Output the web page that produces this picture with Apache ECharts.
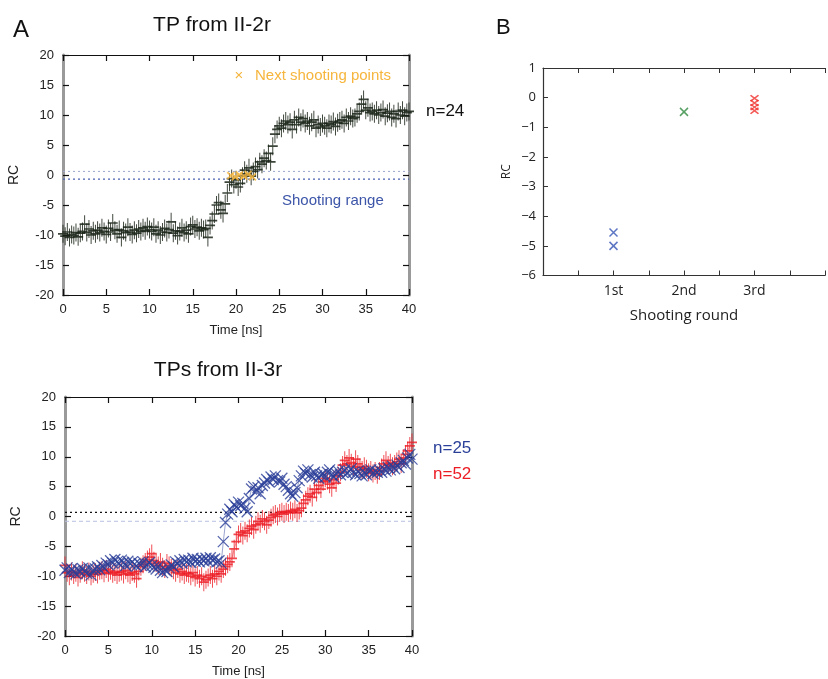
<!DOCTYPE html>
<html><head><meta charset="utf-8">
<script src="https://cdn.jsdelivr.net/npm/echarts@6/dist/echarts.min.js"></script>
<style>html,body{margin:0;padding:0;background:#fff}#c{width:828px;height:679px}</style>
</head><body><div id="c"></div>
<script>
// ---- data ----
const DT = 0.25; // sampling step (ns)
const TOP_RC = [
 -9.8,-10.2,-9.5,-10.4,-9.9,-10.1,-9.6,-10.3,-9.7,
 -9.4,-8.2,-9.6,-9.0,-10.0,-9.3,-9.8,-9.2,
 -9.6,-8.8,-9.4,-9.9,-8.9,-9.5,-8.0,-9.2,
 -9.8,-9.1,-10.4,-9.3,-9.6,-8.7,-9.5,-9.9,
 -9.2,-9.7,-9.0,-9.4,-8.8,-9.3,-8.6,-9.1,
 -9.4,-8.7,-9.8,-9.2,-10.0,-9.5,-8.9,-9.6,
 -9.1,-7.8,-9.7,-9.3,-10.1,-9.4,-8.8,-9.6,
 -9.2,-9.8,-8.6,-8.3,-9.0,-8.7,-9.3,-8.8,
 -9.1,-8.9,-10.4,-8.4,-7.6,-6.5,-5.0,-4.6,
 -5.8,-6.4,-4.8,-3.0,-1.2,-0.6,-1.6,-0.8,
 -2.0,-1.4,-0.2,0.8,0.2,1.2,-0.2,0.6,
 1.4,0.9,2.2,1.8,2.8,2.4,3.6,2.2,
 4.8,6.8,7.6,8.2,7.8,8.6,9.0,8.4,
 8.8,7.6,9.2,8.4,9.6,8.8,9.4,8.6,
 9.0,8.2,8.8,9.2,7.8,8.4,8.0,8.6,
 8.2,7.8,8.6,8.4,8.9,8.1,8.7,9.0,
 9.2,8.6,9.6,9.0,9.8,9.4,9.6,10.2,
 10.6,11.8,12.6,10.8,11.2,10.4,10.6,10.2,
 10.8,10.0,10.4,10.9,9.8,10.3,10.6,9.6,
 10.2,9.4,10.6,10.0,10.8,9.8,10.4,10.6
];
const BLUE_RC = [
 -9.0,-8.6,-9.4,-8.8,-9.2,-9.6,-8.9,-9.3,-8.7,
 -9.1,-9.5,-8.6,-9.8,-9.0,-8.8,-8.4,-8.9,
 -8.2,-8.6,-7.8,-8.1,-7.4,-7.8,-7.2,-7.6,
 -7.9,-7.3,-7.7,-8.2,-7.5,-7.9,-7.6,-8.0,
 -8.3,-7.8,-8.1,-7.6,-8.4,-8.0,-7.7,-8.2,
 -8.5,-8.8,-8.3,-9.0,-9.4,-8.9,-9.2,-8.6,
 -8.1,-8.4,-7.6,-7.9,-7.4,-7.8,-7.2,-7.6,
 -7.3,-7.7,-7.0,-7.5,-7.2,-7.6,-7.1,-7.4,
 -7.0,-7.5,-6.9,-7.3,-7.1,-7.6,-7.4,-7.8,
 -4.2,-1.0,0.4,1.2,0.8,2.0,1.6,2.4,
 1.8,2.2,1.4,0.8,3.0,4.6,5.0,4.2,
 4.8,3.8,5.2,5.6,6.2,5.8,6.6,6.2,
 6.8,6.0,5.8,6.4,5.4,5.0,4.4,3.8,
 3.4,4.0,4.8,6.0,6.8,7.6,7.2,7.8,
 7.0,6.6,7.4,6.8,6.4,7.0,7.2,6.6,
 7.4,7.8,7.0,6.6,7.2,7.6,7.0,7.4,
 7.8,7.2,7.6,8.0,7.4,7.0,7.6,7.2,
 6.8,7.4,7.0,7.6,7.8,7.2,7.6,7.4,
 7.8,7.4,8.0,7.6,8.2,7.8,8.4,8.0,
 8.6,8.2,9.0,9.4,8.8,9.8,10.4,9.6
];
const RED_RC = [
 -8.2,-9.4,-10.0,-9.2,-9.8,-9.4,-10.2,-9.6,-9.0,
 -9.4,-9.8,-9.2,-10.0,-9.6,-9.3,-9.7,-9.1,
 -9.0,-9.5,-8.8,-9.4,-9.1,-9.6,-9.3,-9.8,
 -9.4,-9.2,-9.7,-9.0,-9.5,-9.8,-9.3,-9.6,
 -10.4,-9.2,-8.4,-8.0,-7.6,-7.2,-6.8,-6.2,
 -7.4,-7.8,-8.2,-7.6,-8.4,-8.8,-7.8,-8.2,
 -8.6,-9.0,-9.4,-8.8,-9.6,-9.2,-9.8,-9.4,
 -9.6,-10.0,-9.4,-10.2,-9.8,-10.4,-10.0,-11.0,
 -10.6,-10.2,-9.8,-10.4,-9.6,-10.0,-9.2,-9.6,
 -8.8,-8.4,-8.0,-7.6,-7.0,-5.4,-4.2,-3.0,
 -2.6,-3.2,-2.4,-2.8,-2.0,-1.6,-2.2,-1.4,
 -0.8,-1.2,-0.4,-0.8,-1.4,-0.6,-0.2,0.2,
 0.4,0.0,0.6,0.8,0.4,0.8,0.6,1.0,
 0.8,1.2,0.6,1.0,1.4,2.2,2.8,3.4,
 3.8,3.2,4.6,4.0,5.2,4.6,5.8,6.4,
 6.0,5.4,4.8,6.2,5.6,6.8,7.4,8.6,
 9.4,8.8,9.8,9.0,8.4,9.6,8.8,8.2,
 7.8,8.4,8.0,7.4,7.8,7.2,7.6,7.0,
 7.6,8.2,8.8,9.4,8.6,9.0,8.4,8.8,
 9.2,9.6,8.8,9.8,10.4,11.0,11.8,12.4
];
const NEXT_T  = [19.4, 19.9, 20.4, 20.9, 21.4, 21.9];
const NEXT_RC = [-0.1, -0.3, 0.0, -0.2, 0.1, -0.3];
const TOP_RANGE = [0.6, -0.7];
const BOT_RANGE = [0.7, -0.8];
const ROUND_LABELS = ['1st', '2nd', '3rd'];
const ROUND1 = [-4.55, -5.0];
const ROUND2 = [-0.48];
const ROUND3 = [-0.02, -0.18, -0.32, -0.44];

// ---- build ----
const toPts = arr => arr.map((v, i) => [+(i * DT).toFixed(2), v]);
const PLUS = 'path://M5,0L5,14M0,7L10,7';
const CROSS = 'path://M0,0L10,10M10,0L0,10';
const FONT = 'Liberation Sans';
const BLUE = '#2a3f98', RED = '#ec1c24', ORANGE = '#f6b53c';

function timeAxes(g) {
  const common = {gridIndex: g, type: 'value', min: 0, max: 40, interval: 5,
    splitLine: {show: false},
    axisLine: {show: true, onZero: false, lineStyle: {color: '#111', width: 1.2}},
    axisTick: {show: true, inside: true, length: 6, lineStyle: {color: '#111', width: 1.2}}};
  return [
    Object.assign({}, common, {position: 'bottom',
      axisLabel: {show: true, color: '#222', fontSize: 13, fontFamily: FONT, margin: 8},
      name: 'Time [ns]', nameLocation: 'middle', nameGap: 29,
      nameTextStyle: {color: '#222', fontSize: 13, fontFamily: FONT}}),
    Object.assign({}, common, {position: 'top', axisLabel: {show: false}})
  ];
}
function rcAxes(g) {
  const common = {gridIndex: g, type: 'value', min: -20, max: 20, interval: 5,
    splitLine: {show: false},
    axisLine: {show: true, onZero: false, lineStyle: {color: '#9a9a9a', width: 3}},
    axisTick: {show: true, inside: true, length: 6, lineStyle: {color: '#111', width: 1.2}}};
  return [
    Object.assign({}, common, {position: 'left',
      axisLabel: {show: true, color: '#222', fontSize: 13, fontFamily: FONT, margin: 9},
      name: 'RC', nameLocation: 'middle', nameGap: 42,
      nameTextStyle: {color: '#222', fontSize: 14, fontFamily: FONT}}),
    Object.assign({}, common, {position: 'right', axisLabel: {show: false}})
  ];
}
function rangeLines(xi, yi, vals, styles) {
  return vals.map((v, k) => ({
    type: 'line', xAxisIndex: xi, yAxisIndex: yi, silent: true, symbol: 'none',
    data: [[0, v], [40, v]],
    lineStyle: styles[k], z: 1
  }));
}

const bAxisCommon = {gridIndex: 2, type: 'value', min: 0, max: 4, interval: 0.5,
  splitLine: {show: false},
  axisLine: {show: true, onZero: false, lineStyle: {color: '#333', width: 1.2}},
  axisTick: {show: true, inside: true, length: 5, lineStyle: {color: '#333'}}};
const xAxes = [...timeAxes(0), ...timeAxes(1),
  Object.assign({}, bAxisCommon, {position: 'bottom',
    axisLabel: {show: true, color: '#222', fontSize: 14, fontFamily: 'Open Sans', margin: 9,
      formatter: v => (Number.isInteger(v) && v >= 1 && v <= 3) ? ROUND_LABELS[v - 1] : ''},
    name: 'Shooting round', nameLocation: 'middle', nameGap: 33,
    nameTextStyle: {color: '#222', fontSize: 15, fontFamily: 'Open Sans'}}),
  Object.assign({}, bAxisCommon, {position: 'top', axisLabel: {show: false}})
];
const yAxes = [...rcAxes(0), ...rcAxes(1), {
  gridIndex: 2, type: 'value', min: -6, max: 1, interval: 1, position: 'left',
  splitLine: {show: false},
  axisLine: {show: true, onZero: false, lineStyle: {color: '#333', width: 1.2}},
  axisTick: {show: true, inside: true, length: 5, lineStyle: {color: '#333'}},
  axisLabel: {show: true, color: '#222', fontSize: 13, fontFamily: 'Open Sans', margin: 7,
    formatter: v => String(v).replace('-', '\u2212')},
  name: 'RC', nameLocation: 'middle', nameGap: 30,
  nameTextStyle: {color: '#222', fontSize: 12, fontFamily: 'Open Sans'}
}];

const series = [
  ...rangeLines(0, 0, TOP_RANGE, [
    {color: '#9aa6cc', width: 1, type: [2, 3]},
    {color: '#4a62b0', width: 1.3, type: [2, 3]}]),
  {type: 'scatter', xAxisIndex: 0, yAxisIndex: 0, data: toPts(TOP_RC),
    symbol: PLUS, symbolSize: [10, 18],
    itemStyle: {color: 'transparent', borderColor: '#1a2417', borderWidth: 1.3, opacity: 0.85}, z: 3},
  {type: 'scatter', xAxisIndex: 0, yAxisIndex: 0,
    data: NEXT_T.map((t, i) => [t, NEXT_RC[i]]),
    symbol: CROSS, symbolSize: 7,
    itemStyle: {color: 'transparent', borderColor: ORANGE, borderWidth: 1.8}, z: 5},
  ...rangeLines(2, 2, BOT_RANGE, [
    {color: '#111', width: 1.3, type: [2, 3]},
    {color: '#b8c0e0', width: 1, type: [4, 3]}]),
  {type: 'line', xAxisIndex: 2, yAxisIndex: 2, data: toPts(RED_RC),
    symbol: PLUS, symbolSize: [10, 18], showSymbol: true, showAllSymbol: true,
    lineStyle: {color: RED, width: 0.8, opacity: 0.6},
    itemStyle: {color: 'transparent', borderColor: RED, borderWidth: 1.3, opacity: 0.8}, z: 3},
  {type: 'line', xAxisIndex: 2, yAxisIndex: 2, data: toPts(BLUE_RC),
    symbol: CROSS, symbolSize: 11, showSymbol: true, showAllSymbol: true,
    lineStyle: {color: BLUE, width: 0.8, opacity: 0.6},
    itemStyle: {color: 'transparent', borderColor: BLUE, borderWidth: 1.3, opacity: 0.8}, z: 4},
  {type: 'scatter', xAxisIndex: 4, yAxisIndex: 4, data: ROUND1.map(v => [1, v]),
    symbol: CROSS, symbolSize: 8, itemStyle: {color: 'transparent', borderColor: '#3454b4', borderWidth: 1.5}},
  {type: 'scatter', xAxisIndex: 4, yAxisIndex: 4, data: ROUND2.map(v => [2, v]),
    symbol: CROSS, symbolSize: 8, itemStyle: {color: 'transparent', borderColor: '#2e8a3e', borderWidth: 1.5}},
  {type: 'scatter', xAxisIndex: 4, yAxisIndex: 4, data: ROUND3.map(v => [3, v]),
    symbol: CROSS, symbolSize: [8, 6], itemStyle: {color: 'transparent', borderColor: '#f0302a', borderWidth: 1.5}}
];

const txt = (text, x, y, size, fill, align) => ({
  type: 'text', x, y, silent: true, z: 100,
  style: {text, fontSize: size, fontFamily: FONT, fill, align: align || 'left', verticalAlign: 'middle'}
});

const chart = echarts.init(document.getElementById('c'), null, {renderer: 'canvas'});
chart.setOption({
  animation: false,
  backgroundColor: '#fff',
  grid: [
    {left: 63, top: 55, width: 346, height: 240},
    {left: 65, top: 397, width: 347, height: 240},
    {left: 543, top: 68, width: 288, height: 207.5}
  ],
  xAxis: xAxes,
  yAxis: yAxes,
  series,
  graphic: [
    txt('A', 13, 30, 24, '#111'),
    txt('B', 496, 28, 22, '#111'),
    txt('TP from II-2r', 212, 25, 21, '#111', 'center'),
    txt('TPs from II-3r', 218, 370, 21, '#111', 'center'),
    txt('n=24', 426, 111, 17, '#111'),
    txt('n=25', 433, 448, 17, BLUE),
    txt('n=52', 433, 474, 17, RED),
    txt('\u00d7', 239, 76, 15, ORANGE, 'center'),
    txt('Next shooting points', 255, 76, 15, ORANGE),
    txt('Shooting range', 282, 201, 15, '#3c55a8')
  ]
});
</script></body></html>
